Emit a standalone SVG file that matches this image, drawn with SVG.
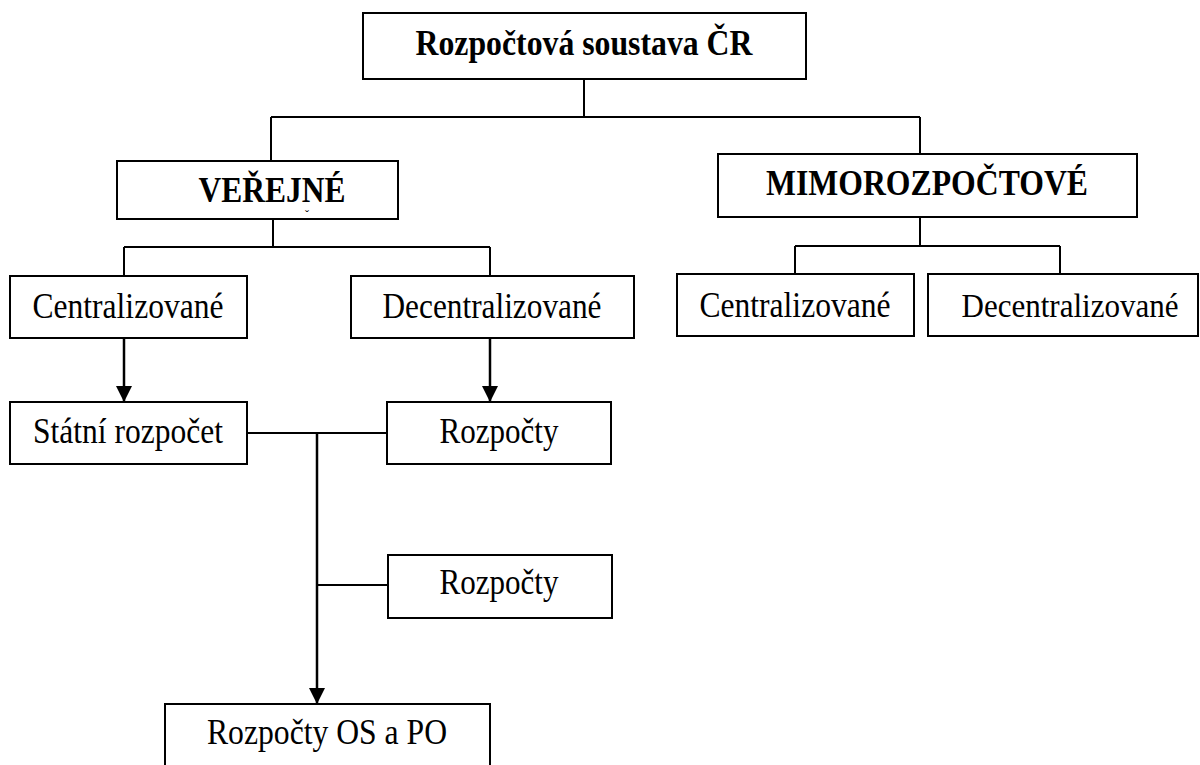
<svg xmlns="http://www.w3.org/2000/svg" width="1200" height="765" viewBox="0 0 1200 765">
<style>
.box{fill:#fff;stroke:#000;stroke-width:2}
.t{font-family:"Liberation Serif","Times New Roman",serif;font-size:35px;fill:#000;text-anchor:middle}
.b{font-weight:bold}
.ln{fill:none;stroke:#000;stroke-width:2}
.ar{fill:none;stroke:#000;stroke-width:2.5}
</style>
<defs>
<marker id="ah" markerUnits="userSpaceOnUse" markerWidth="16" markerHeight="16" viewBox="0 0 16 16" refX="16" refY="8" orient="auto">
<path d="M0,0 L16,8 L0,16 Z" fill="#000"/>
</marker>
</defs>
<rect width="1200" height="765" fill="#fff"/>
<g id="connectors">
<path class="ln" d="M584,79 V117 M271,117 H920 M271,117 V161 M920,117 V154"/>
<path class="ln" d="M273,219 V247 M124,247 H490 M124,247 V276 M490,247 V276"/>
<path class="ln" d="M920,217 V246 M795,246 H1060 M795,246 V274 M1060,246 V274"/>
<path class="ar" d="M124,338 V402" marker-end="url(#ah)"/>
<path class="ar" d="M490,338 V402" marker-end="url(#ah)"/>
<path class="ln" d="M247,433 H387 M317,585 H388"/>
<path class="ar" d="M317,433 V704" marker-end="url(#ah)"/>
</g>
<g id="root"><rect class="box" x="363" y="13" width="443" height="66"/><text class="t b" x="584" y="55" textLength="337" lengthAdjust="spacingAndGlyphs">Rozpočtová soustava ČR</text></g>
<g id="verejne"><rect class="box" x="117" y="161" width="281" height="58"/><text class="t b" x="272" y="202" textLength="147" lengthAdjust="spacingAndGlyphs">VEŘEJNÉ</text><text x="307" y="219" style="font-family:'Liberation Serif',serif;font-size:12px;text-anchor:middle">ˇ</text></g>
<g id="mimo"><rect class="box" x="718" y="154" width="419" height="63"/><text class="t b" x="927" y="195" textLength="322" lengthAdjust="spacingAndGlyphs">MIMOROZPOČTOVÉ</text></g>
<g id="v-central"><rect class="box" x="10" y="276" width="237" height="62"/><text class="t" x="128" y="318" textLength="191" lengthAdjust="spacingAndGlyphs">Centralizované</text></g>
<g id="v-decentral"><rect class="box" x="351" y="276" width="283" height="62"/><text class="t" x="492" y="318" textLength="219" lengthAdjust="spacingAndGlyphs">Decentralizované</text></g>
<g id="m-central"><rect class="box" x="677" y="274" width="237" height="62"/><text class="t" x="795" y="317" textLength="191" lengthAdjust="spacingAndGlyphs">Centralizované</text></g>
<g id="m-decentral"><rect class="box" x="928" y="274" width="270" height="62"/><text class="t" x="1070" y="317" style="font-size:33px" textLength="217" lengthAdjust="spacingAndGlyphs">Decentralizované</text></g>
<g id="statni"><rect class="box" x="10" y="402" width="237" height="62"/><text class="t" x="128" y="443" textLength="190" lengthAdjust="spacingAndGlyphs">Státní rozpočet</text></g>
<g id="rozpocty1"><rect class="box" x="387" y="402" width="224" height="62"/><text class="t" x="499" y="443" textLength="119" lengthAdjust="spacingAndGlyphs">Rozpočty</text></g>
<g id="rozpocty2"><rect class="box" x="388" y="555" width="224" height="63"/><text class="t" x="499" y="594" textLength="119" lengthAdjust="spacingAndGlyphs">Rozpočty</text></g>
<g id="os-po"><rect class="box" x="165" y="704" width="325" height="80"/><text class="t" x="327" y="744" textLength="240" lengthAdjust="spacingAndGlyphs">Rozpočty OS a PO</text></g>
</svg>
